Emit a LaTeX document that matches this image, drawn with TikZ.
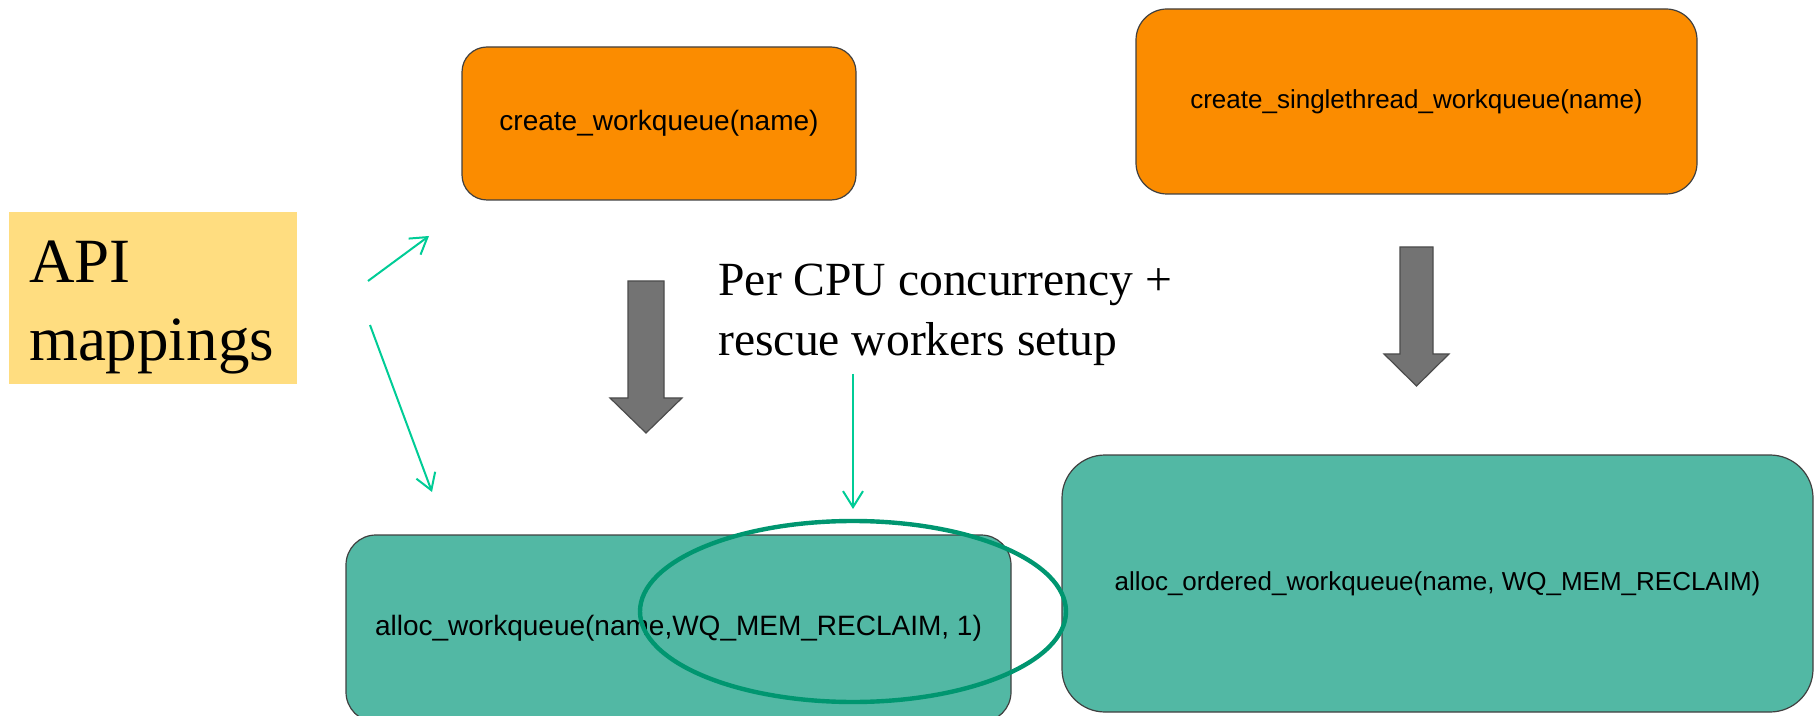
\documentclass[tikz,border=0pt]{standalone}
\usepackage{fontspec}
\setmainfont{Liberation Sans}
\newfontfamily\timesfont{Liberation Serif}
\usetikzlibrary{arrows.meta}

\definecolor{boxorange}{RGB}{251,140,0}
\definecolor{boxteal}{RGB}{82,184,164}
\definecolor{notegreen}{RGB}{0,204,150}
\definecolor{ringgreen}{RGB}{0,150,112}
\definecolor{labelyellow}{RGB}{255,221,128}
\definecolor{blockgray}{RGB}{115,115,115}

\tikzset{
  oldapi/.style={rounded corners=#1, fill=boxorange, draw=black!75, line width=0.6pt, align=center},
  newapi/.style={rounded corners=#1, fill=boxteal, draw=black!75, line width=0.6pt, align=center},
  note/.style={draw=notegreen, line width=1pt, -{Straight Barb[length=8pt,width=10pt]}},
  blockarrow/.style={fill=blockgray, draw=black!70, line width=0.6pt}
}

\begin{document}
\begin{tikzpicture}[x=0.5pt,y=-0.5pt]
\useasboundingbox (0,0) rectangle (1814,716);

% label on the left
\node[fill=labelyellow, minimum width=144pt, minimum height=86pt, inner xsep=10pt,
      text width=124pt, text height=30pt, align=left,
      font=\timesfont\fontsize{31.5}{39}\selectfont]
      (api) at (153,298) {API\\mappings};

% old calls
\node[oldapi=12.5pt, minimum width=197pt, minimum height=76.5pt, font=\fontsize{14}{17}\selectfont]
      (wq) at (659,123.5) {create\_workqueue(name)};
\node[oldapi=15.5pt, minimum width=280.5pt, minimum height=92.5pt, font=\fontsize{13}{16}\selectfont]
      (stwq) at (1416.5,101.5) {create\_singlethread\_workqueue(name)};

% new calls
\node[newapi=15pt, minimum width=332.5pt, minimum height=93.5pt, font=\fontsize{14}{17}\selectfont]
      (alloc) at (678.5,628.5) {alloc\_workqueue(name,WQ\_MEM\_RECLAIM, 1)};
\node[newapi=21.5pt, minimum width=375.5pt, minimum height=128.5pt, font=\fontsize{13}{16}\selectfont]
      (ordered) at (1437.5,583.5) {alloc\_ordered\_workqueue(name, WQ\_MEM\_RECLAIM)};

% gray block arrows
\draw[blockarrow] (628,281) -- (664,281) -- (664,398) -- (682,398) -- (646,433)
      -- (610,398) -- (628,398) -- cycle;
\draw[blockarrow] (1400,247) -- (1433,247) -- (1433,354) -- (1449,354) -- (1416.5,386)
      -- (1384,354) -- (1400,354) -- cycle;

% comment text
\node[anchor=north west, inner sep=0pt, align=left, font=\timesfont\fontsize{23.8}{30}\selectfont]
      (percpu) at (718,264) {Per CPU concurrency +\\rescue workers setup};

% thin green arrows
\coordinate (a1s) at (368,281);
\coordinate (a1e) at (429,236);
\coordinate (a2s) at (370,325);
\coordinate (a2e) at (432,492);
\coordinate (a3s) at (853,374);
\coordinate (a3e) at (853,509);
\draw[note] (a1s) -- (a1e);
\draw[note] (a2s) -- (a2e);
\draw[note] (a3s) -- (a3e);

% ring round the flag
\draw[ringgreen, line width=2.2pt] (853,611.5) ellipse [x radius=213, y radius=90.5];
\end{tikzpicture}
\end{document}
